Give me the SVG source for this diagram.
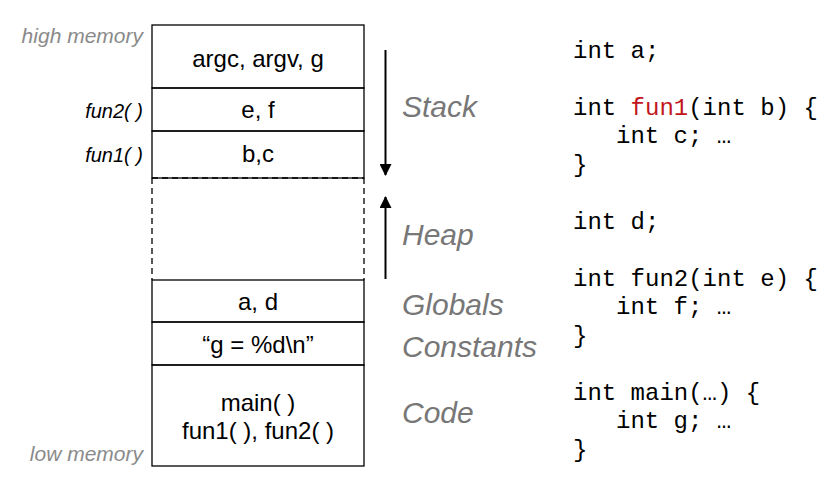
<svg xmlns="http://www.w3.org/2000/svg" width="838" height="487" viewBox="0 0 838 487">
<style>
.box{fill:none;stroke:#000;stroke-width:1.3}
.dash{fill:none;stroke:#000;stroke-width:1.3;stroke-dasharray:6 4}
.cell{font-family:"Liberation Sans",Arial,sans-serif;font-size:24px;fill:#000;text-anchor:middle}
.fn{font-family:"Liberation Sans",Arial,sans-serif;font-size:20px;font-style:italic;fill:#000;text-anchor:end}
.mem{font-family:"Liberation Sans",Arial,sans-serif;font-size:21px;font-style:italic;fill:#8a8a8a;text-anchor:end}
.seg{font-family:"Liberation Sans",Arial,sans-serif;font-size:30px;font-style:italic;fill:#777}
.code{font-family:"Liberation Mono","Courier New",monospace;font-size:24px;fill:#000}
.red{fill:#c0161c}
.arr{stroke:#000;stroke-width:2;fill:none}
</style>
<defs>
<marker id="ah" markerWidth="12" markerHeight="12" refX="11" refY="6" orient="auto" markerUnits="userSpaceOnUse" viewBox="0 0 12 12">
<path d="M0,0 L12,6 L0,12 Z" fill="#000"/>
</marker>
</defs>
<g id="memory">
<g id="stack-main"><rect class="box" x="152" y="25" width="212" height="63"/><text class="cell" x="258" y="67">argc, argv, g</text></g>
<g id="stack-fun2"><rect class="box" x="152" y="88" width="212" height="43"/><text class="cell" x="258" y="118">e, f</text></g>
<g id="stack-fun1"><rect class="box" x="152" y="131" width="212" height="47"/><text class="cell" x="258" y="162">b,c</text></g>
<g id="heap"><path class="dash" d="M152,178 H364 M152,178 V280 M364,178 V280"/></g>
<g id="globals"><rect class="box" x="152" y="280" width="212" height="42"/><text class="cell" x="258" y="310">a, d</text></g>
<g id="constants"><rect class="box" x="152" y="322" width="212" height="43"/><text class="cell" x="258" y="353">“g = %d\n”</text></g>
<g id="code"><rect class="box" x="152" y="365" width="212" height="101"/><text class="cell" x="258" y="411">main( )</text><text class="cell" x="258" y="439">fun1( ), fun2( )</text></g>
</g>
<g id="side-labels">
<text class="mem" x="143" y="43">high memory</text>
<text class="fn" x="143" y="118">fun2( )</text>
<text class="fn" x="143" y="162">fun1( )</text>
<text class="mem" x="143" y="461">low memory</text>
</g>
<g id="connectors">
<line class="arr" x1="385.5" y1="50" x2="385.5" y2="175" marker-end="url(#ah)"/>
<line class="arr" x1="385.5" y1="279" x2="385.5" y2="197" marker-end="url(#ah)"/>
</g>
<g id="segment-labels">
<text class="seg" x="402" y="117">Stack</text>
<text class="seg" x="402" y="245">Heap</text>
<text class="seg" x="402" y="315">Globals</text>
<text class="seg" x="402" y="357">Constants</text>
<text class="seg" x="402" y="423">Code</text>
</g>
<g id="source">
<text class="code" x="573" y="58">int a;</text>
<text class="code" x="573" y="115">int <tspan class="red">fun1</tspan>(int b) {</text>
<text class="code" x="616" y="143">int c; …</text>
<text class="code" x="573" y="172">}</text>
<text class="code" x="573" y="229">int d;</text>
<text class="code" x="573" y="286">int fun2(int e) {</text>
<text class="code" x="616" y="314">int f; …</text>
<text class="code" x="573" y="343">}</text>
<text class="code" x="573" y="400">int main(…) {</text>
<text class="code" x="616" y="428">int g; …</text>
<text class="code" x="573" y="457">}</text>
</g>
</svg>
